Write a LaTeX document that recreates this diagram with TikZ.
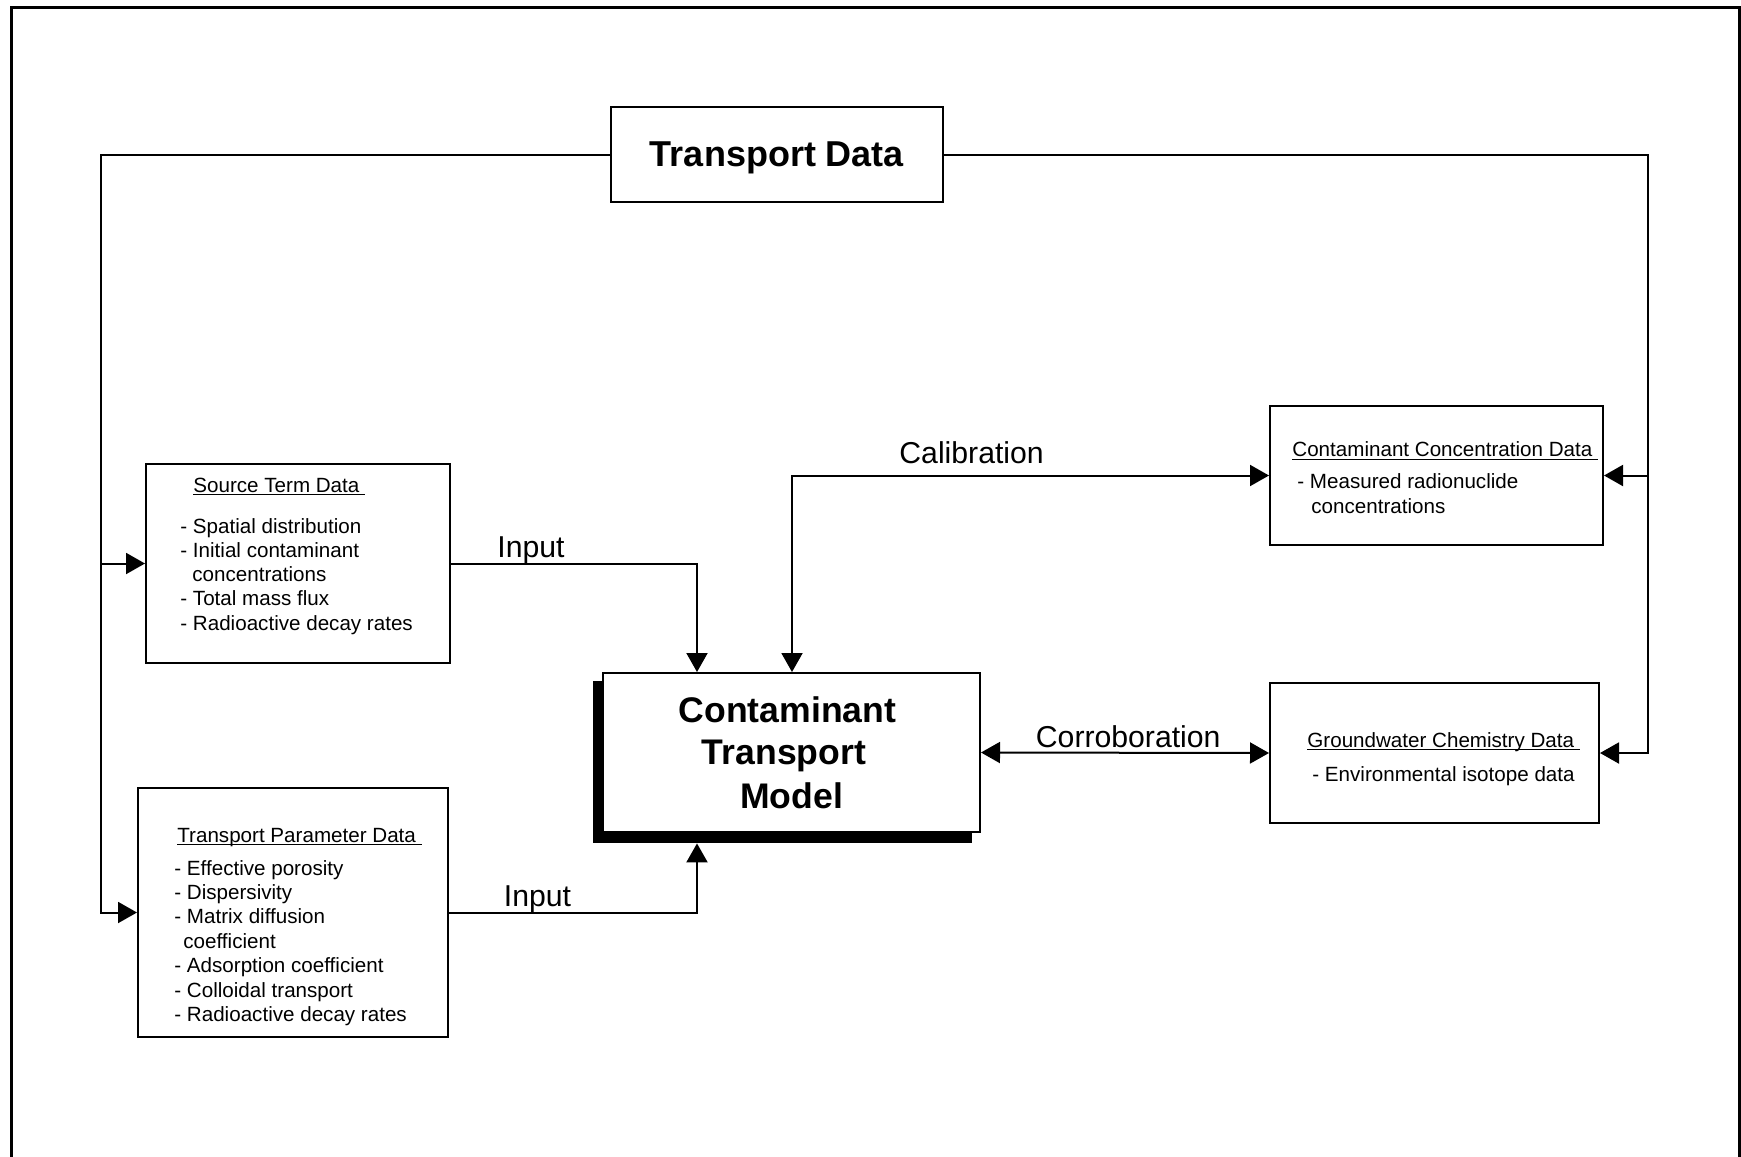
\documentclass[tikz,border=0pt]{standalone}
\usepackage{fontspec}
\setmainfont{Liberation Sans}
\usetikzlibrary{arrows.meta}
% underlined heading whose rule sits just under the baseline, through descenders
\newcommand\ulhead[1]{\underline{\smash{#1\ }}}
\begin{document}
\begin{tikzpicture}[x=0.5pt,y=-0.5pt,
  box/.style={draw, line width=1pt, inner sep=0pt, fill=white},
  flow/.style={line width=1pt, line join=miter, -{Triangle[length=9.5pt,width=10.5pt]}},
  flowtwo/.style={line width=1pt, line join=miter, {Triangle[length=9.5pt,width=10.5pt]}-{Triangle[length=9.5pt,width=10.5pt]}},
  lab/.style={font=\fontsize{15.1}{18}\selectfont, anchor=base west, inner sep=0pt},
  item/.style={font=\fontsize{10.3}{12}\selectfont, anchor=base west, inner sep=0pt},
  big/.style={font=\fontsize{17.8}{21.7}\selectfont\bfseries, anchor=base, inner sep=0pt}]
\useasboundingbox (0,0) rectangle (1741,1157);
\fill[white] (0,0) rectangle (1741,1157);

% outer frame, open at the bottom
\draw[line width=1.5pt] (11.5,1170) -- (11.5,7.5) -- (1739,7.5) -- (1739,1170);

% boxes
\node[box, minimum width=166pt, minimum height=47.5pt, text depth=0pt,
      font=\fontsize{18}{21}\selectfont\bfseries] (td) at (777,154.5) {Transport Data};
\node[box, minimum width=152pt, minimum height=99.5pt] (st) at (298,563.5) {};
\node[box, minimum width=155pt, minimum height=124.5pt] (tp) at (293,912.5) {};
\node[fill=black, inner sep=0pt, minimum width=189.5pt, minimum height=81pt] (ctmshadow) at (782.5,762) {};
\node[box, minimum width=188.5pt, minimum height=79.5pt] (ctm) at (791.5,752.5) {};
\node[box, minimum width=166.5pt, minimum height=69.5pt] (cc) at (1436.5,475.5) {};
\node[box, minimum width=164.5pt, minimum height=70pt] (gw) at (1434.5,753) {};

% model title
\node[big] (ctma) at (787.5,722) {Contaminant};
\node[big] (ctmb) at (784,764) {Transport};
\node[big] (ctmc) at (791.7,808) {Model};

% source term data
\node[item] (st0) at (193,492) {\ulhead{Source Term Data}};
\node[item] (st1) at (180,533) {- Spatial distribution};
\node[item] (st2) at (180,557.3) {- Initial contaminant};
\node[item] (st3) at (192,581.6) {concentrations};
\node[item] (st4) at (180,605.9) {- Total mass flux};
\node[item] (st5) at (180,630.2) {- Radioactive decay rates};

% transport parameter data
\node[item] (tp0) at (177,842) {\ulhead{Transport Parameter Data}};
\node[item] (tp1) at (174,875) {- Effective porosity};
\node[item] (tp2) at (174,899.5) {- Dispersivity};
\node[item] (tp3) at (174,923.9) {- Matrix diffusion};
\node[item] (tp4) at (183,948.4) {coefficient};
\node[item] (tp5) at (174,972.8) {- Adsorption coefficient};
\node[item] (tp6) at (174,997.3) {- Colloidal transport};
\node[item] (tp7) at (174,1021.7) {- Radioactive decay rates};

% contaminant concentration data
\node[item] (cc0) at (1292,456.7) {\ulhead{Contaminant Concentration Data}};
\node[item] (cc1) at (1297,488) {- Measured radionuclide};
\node[item] (cc2) at (1311,513) {concentrations};

% groundwater chemistry data
\node[item] (gw0) at (1307,747) {\ulhead{Groundwater Chemistry Data}};
\node[item] (gw1) at (1312,781) {- Environmental isotope data};

% bend columns
\coordinate (xl) at (101,0);
\coordinate (xr) at (1648,0);
\coordinate (xin) at (697,0);
\coordinate (xcal) at (792,0);

% connectors
\draw[flow] (td.west) -| (xl |- tp.west) -- (tp.west);
\draw[flow] (xl |- st.west) -- (st.west);
\draw[flow] (td.east) -| (xr |- gw.east) -- (gw.east);
\draw[flow] (xr |- cc.east) -- (cc.east);
\draw[flow] (st.east) -| (ctm.north -| xin);
\draw[flow] (tp.east) -| (ctmshadow.south -| xin);
\draw[flowtwo] (ctm.north -| xcal) |- (cc.west);
\draw[flowtwo] (ctm.east) -- (gw.west);

% connector labels
\node[lab] (lcal) at (899,463.4) {Calibration};
\node[lab] (lin1) at (497,557) {Input};
\node[lab] (lin2) at (503.5,906) {Input};
\node[lab] (lcor) at (1035.5,747) {Corroboration};
\end{tikzpicture}
\end{document}
